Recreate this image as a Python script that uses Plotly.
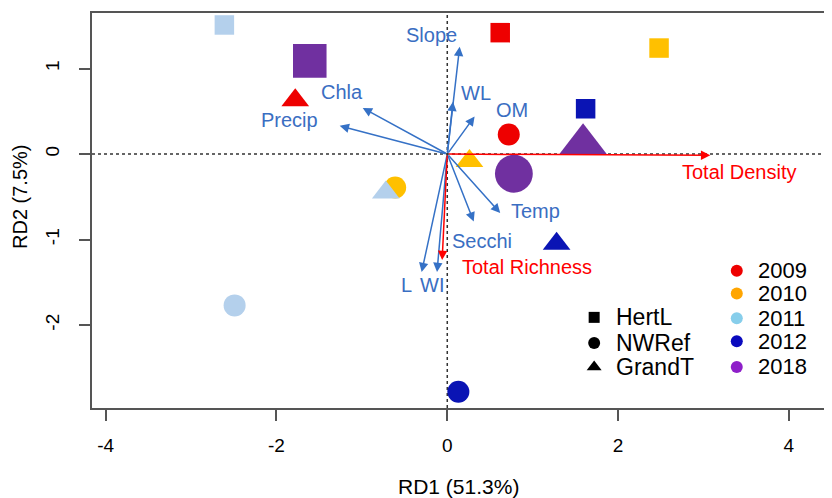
import plotly.graph_objects as go

# ---------------- data ----------------
years = ["2009", "2010", "2011", "2012", "2018"]
sites = ["HertL", "NWRef", "GrandT"]

hertl_x = [0.62, 2.48, -2.61, 1.62, -1.61]
hertl_y = [1.42, 1.24, 1.51, 0.53, 1.09]
nwref_x = [0.72, -0.61, -2.49, 0.13, 0.78]
nwref_y = [0.23, -0.39, -1.77, -2.78, -0.23]
grandt_x = [-1.78, 0.26, -0.72, 1.28, 1.59]
grandt_y = [0.63, -0.08, -0.45, -1.05, 0.12]

env_vars = ["Slope", "WL", "OM", "Chla", "Precip", "Temp", "Secchi", "L", "WI"]
env_x = [0.145, 0.067, 0.32, -0.99, -1.26, 0.62, 0.31, -0.30, -0.12]
env_y = [1.255, 0.612, 0.44, 0.54, 0.33, -0.69, -0.79, -1.38, -1.38]

resp_vars = ["Total Density", "Total Richness"]
resp_x = [3.08, -0.06]
resp_y = [-0.015, -1.24]

x_ticks = [-4, -2, 0, 2, 4]
y_ticks = [-2, -1, 0, 1]
x_title = "RD1 (51.3%)"
y_title = "RD2 (7.5%)"

# ---------------- style ----------------
FONT = "Arial, Liberation Sans, sans-serif"
point_colors = ["#EE0000", "#FFC000", "#B4D0EC", "#0A14B4", "#7030A0"]
legend_colors = ["#EE0000", "#FFA500", "#87CEEB", "#0A0ABE", "#8E1FC9"]
year_scale = [1, 1, 1, 1, 1.72]
site_symbols = ["square", "circle", "triangle-up"]
site_base = [19.5, 22, 24]
ENV_COL = "#3571C6"
ENV_TXT = "#3A6EC2"
RESP_COL = "#FF0000"

# page offset of the figure (browser body margin)
OFF = 8
W, H = 832, 498
# plot area in screen pixels
L, R, T, B = 92 - OFF, 832 - OFF, 13 - OFF, 408 - OFF
PW, PH = R - L, B - T

# label pixel offsets (dx right, dy down) from arrow tips
env_off = {"Slope": (-28, -12), "WL": (23, -9), "OM": (37, -6.5), "Chla": (-21, -16),
           "Precip": (-50, -5.5), "Temp": (35.5, -2), "Secchi": (8, 19),
           "L": (-15, 13), "WI": (-5, 13)}
resp_off = {"Total Density": (29, 16.4), "Total Richness": (85, 6.7)}

fig = go.Figure()

site_data = [(hertl_x, hertl_y), (nwref_x, nwref_y), (grandt_x, grandt_y)]
for si, (sx, sy) in enumerate(site_data):
    fig.add_trace(go.Scatter(
        x=sx, y=sy, mode="markers", showlegend=False, hoverinfo="skip",
        marker=dict(symbol=site_symbols[si], color=point_colors, opacity=1,
                    size=[site_base[si] * s for s in year_scale],
                    line=dict(width=0)),
    ))

annotations = []
# arrows
for names, xs, ys, col in [(env_vars, env_x, env_y, ENV_COL), (resp_vars, resp_x, resp_y, RESP_COL)]:
    for name, tx, ty in zip(names, xs, ys):
        annotations.append(dict(x=tx, y=ty, ax=0, ay=0, xref="x", yref="y", axref="x", ayref="y",
                                text="", showarrow=True, arrowhead=2, arrowsize=1.25,
                                arrowwidth=1.5, arrowcolor=col, standoff=0, startstandoff=0))
# labels
for names, xs, ys, offs, col in [(env_vars, env_x, env_y, env_off, ENV_TXT),
                                 (resp_vars, resp_x, resp_y, resp_off, RESP_COL)]:
    for name, tx, ty in zip(names, xs, ys):
        dx, dy = offs[name]
        annotations.append(dict(x=tx, y=ty, xref="x", yref="y", text=name, showarrow=False,
                                xshift=dx, yshift=-dy, xanchor="center", yanchor="middle",
                                font=dict(family=FONT, size=20, color=col)))

# legends (site shapes, year colours)
leg_site_x, leg_site_text_x = 1.72, 1.95
leg_site_y = [-1.91, -2.21, -2.49]
leg_site_size = [11, 12, 13]
for si, name in enumerate(sites):
    fig.add_trace(go.Scatter(x=[leg_site_x], y=[leg_site_y[si]], mode="markers",
                             showlegend=False, hoverinfo="skip",
                             marker=dict(symbol=site_symbols[si], color="black", opacity=1,
                                         size=leg_site_size[si], line=dict(width=0))))
    annotations.append(dict(x=leg_site_text_x, y=leg_site_y[si], xref="x", yref="y",
                            text=name, showarrow=False, xanchor="left", yanchor="middle",
                            font=dict(family=FONT, size=23, color="black")))
leg_year_x, leg_year_text_x = 3.39, 3.61
leg_year_y = [-1.365, -1.63, -1.92, -2.19, -2.49]
fig.add_trace(go.Scatter(x=[leg_year_x] * len(years), y=leg_year_y, mode="markers",
                         showlegend=False, hoverinfo="skip",
                         marker=dict(symbol="circle", color=legend_colors, size=12, opacity=1,
                                     line=dict(width=0))))
for yi, name in enumerate(years):
    annotations.append(dict(x=leg_year_text_x, y=leg_year_y[yi], xref="x", yref="y",
                            text=name, showarrow=False, xanchor="left", yanchor="middle",
                            font=dict(family=FONT, size=22, color="black")))

# axis titles (screen positions minus page offset)
annotations.append(dict(xref="paper", yref="paper", x=(458 - OFF - L) / PW, y=(B - (486 - OFF)) / PH,
                        text=x_title, showarrow=False, xanchor="center", yanchor="middle",
                        font=dict(family=FONT, size=21, color="black")))
annotations.append(dict(xref="paper", yref="paper", x=(20 - OFF - L) / PW, y=(B - (197 - OFF)) / PH,
                        text=y_title, textangle=-90, showarrow=False,
                        xanchor="center", yanchor="middle",
                        font=dict(family=FONT, size=20, color="black")))

fig.add_hline(y=0, line=dict(color="#333333", width=1.5, dash="dot"), layer="below")
fig.add_vline(x=0, line=dict(color="#333333", width=1.5, dash="dot"), layer="below")

fig.update_layout(
    width=W, height=H,
    margin=dict(l=L, r=W - R, t=T, b=H - B, autoexpand=False),
    paper_bgcolor="white", plot_bgcolor="white",
    annotations=annotations,
    showlegend=False,
    xaxis=dict(range=[-4.16, 4.505], tickvals=x_ticks, ticktext=[str(v) for v in x_ticks],
               showgrid=False, zeroline=False, showline=True, mirror=True, automargin=False,
               linecolor="#555555", linewidth=1.5, ticks="outside", ticklen=11,
               tickwidth=1.5, tickcolor="#555555", ticklabelstandoff=8,
               tickfont=dict(family=FONT, size=19, color="black")),
    yaxis=dict(range=[-2.97, 1.65], tickvals=y_ticks, ticktext=[str(v) for v in y_ticks],
               showgrid=False, zeroline=False, showline=True, mirror=False, automargin=False,
               linecolor="#555555", linewidth=1.5, ticks="outside", ticklen=11,
               tickwidth=1.5, tickcolor="#555555", tickangle=-90, ticklabelstandoff=13,
               tickfont=dict(family=FONT, size=19, color="black")),
)

fig.write_html("out.html")
